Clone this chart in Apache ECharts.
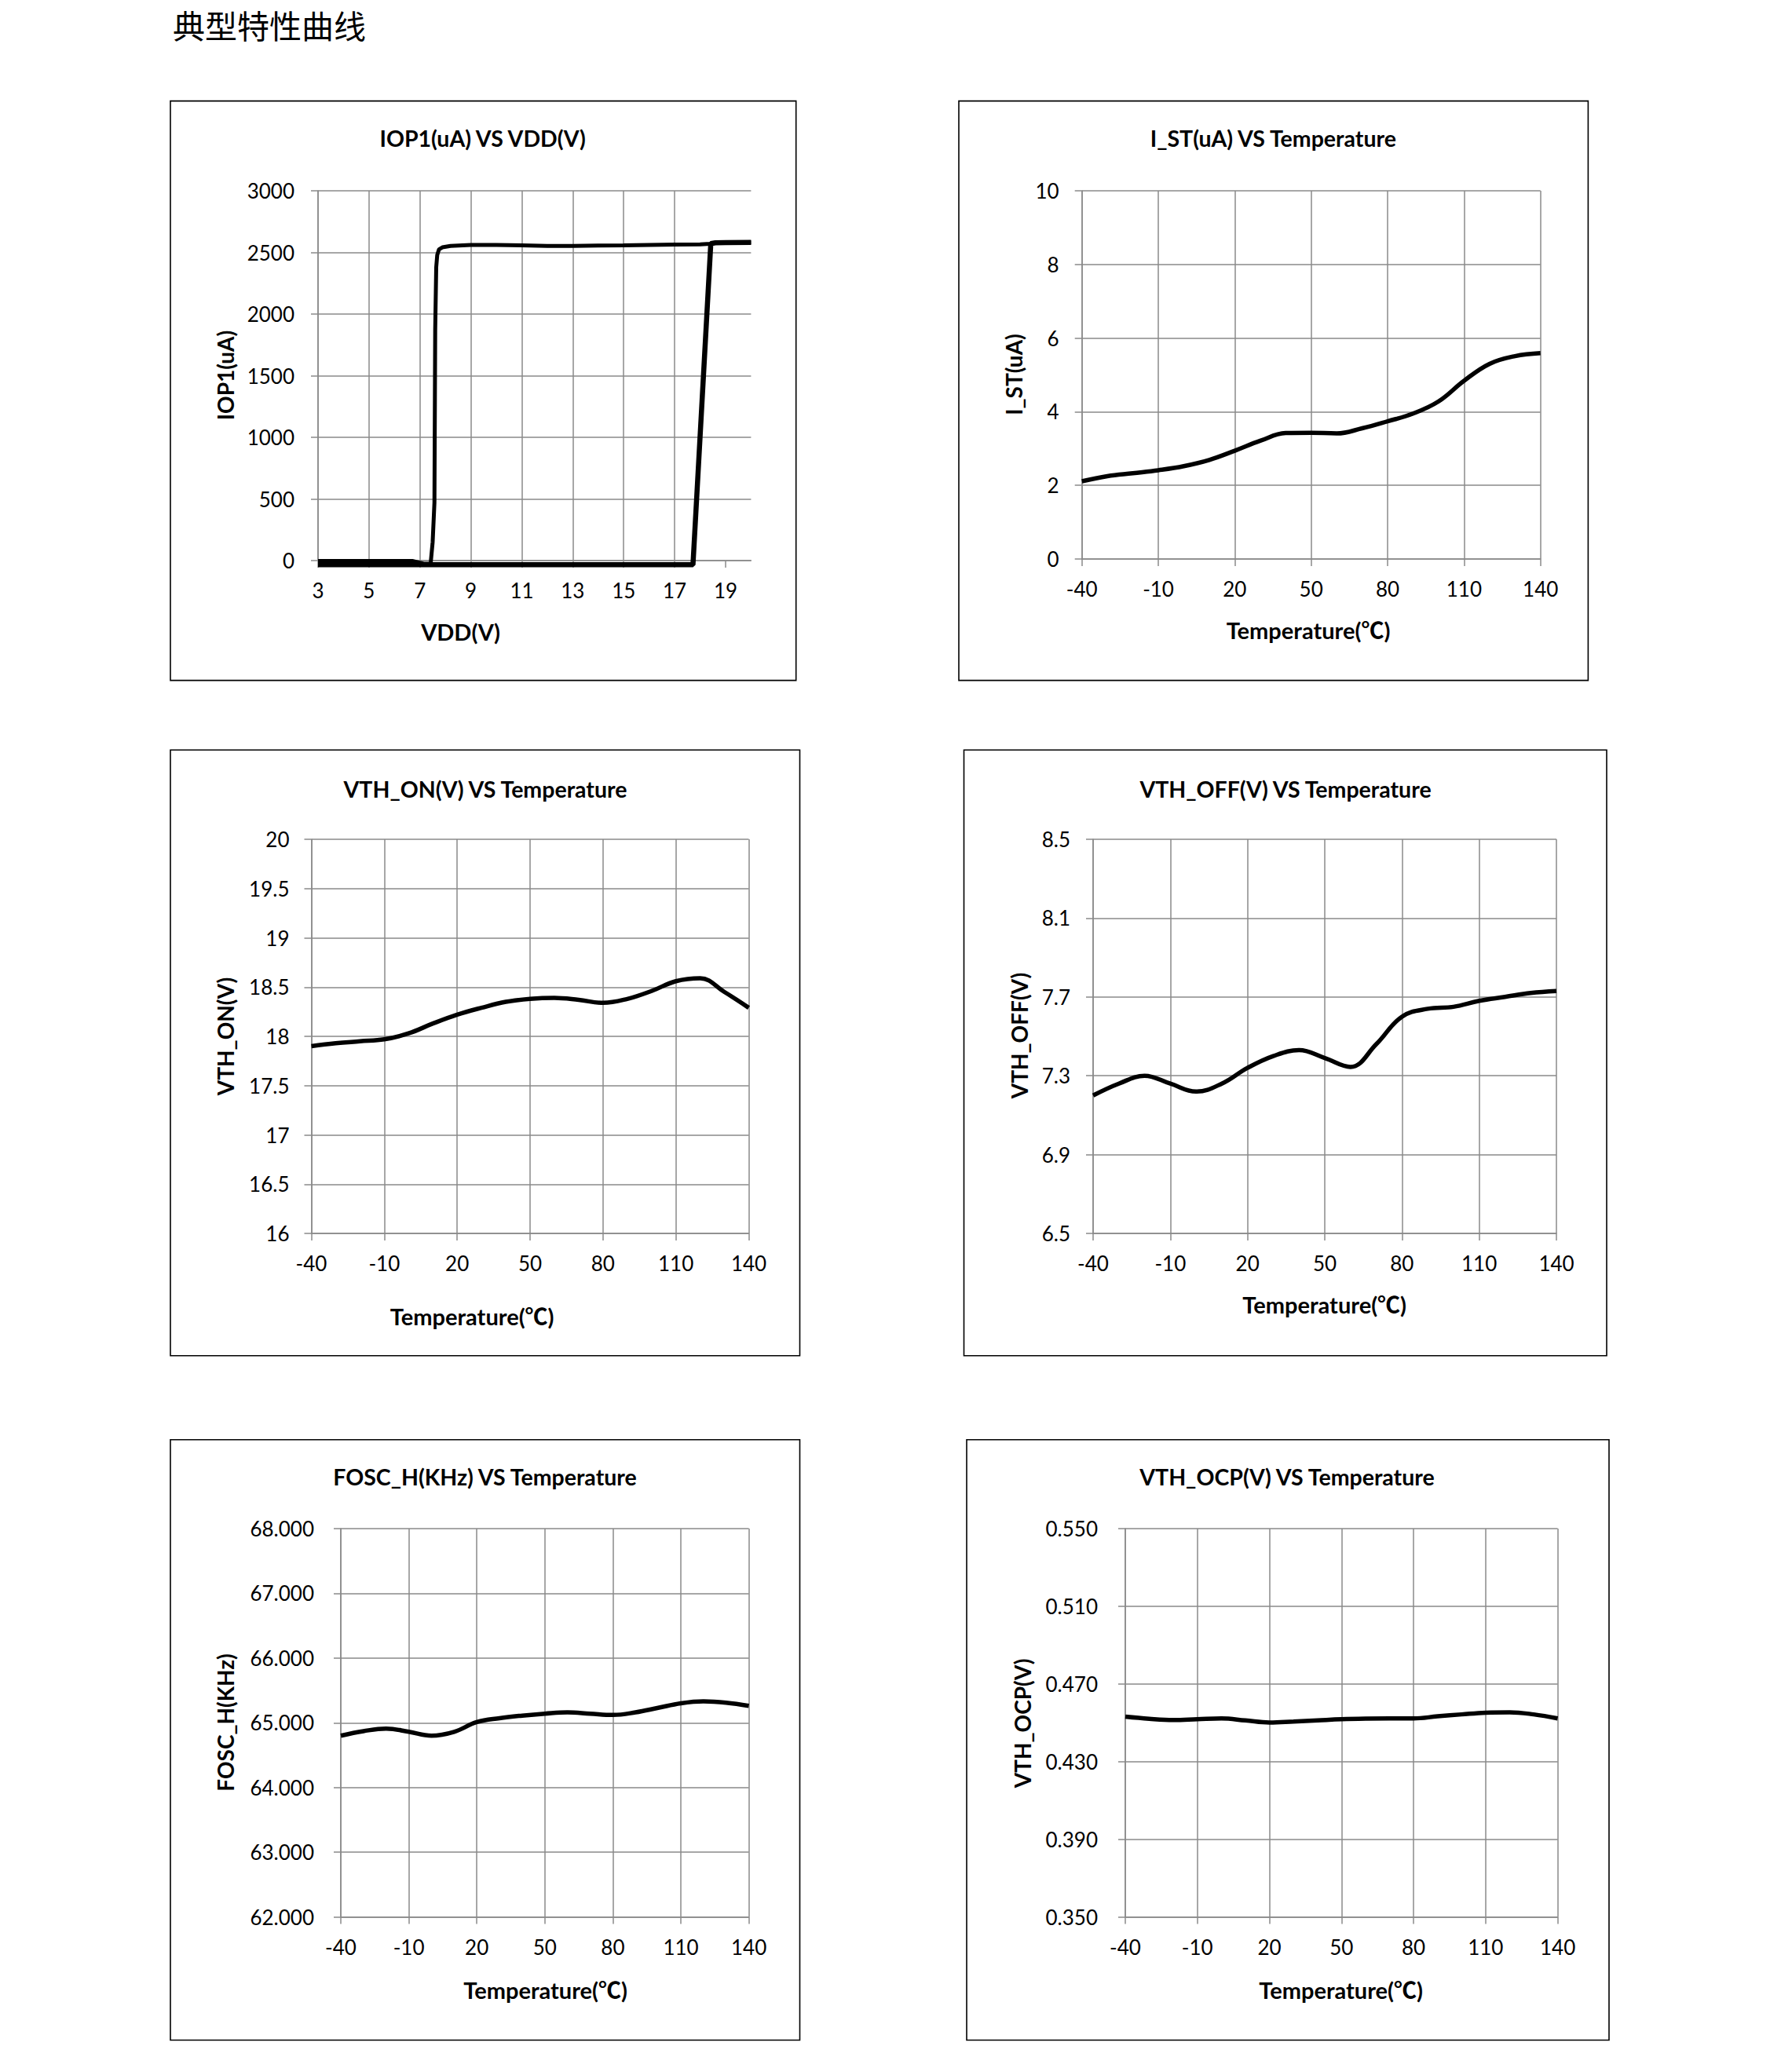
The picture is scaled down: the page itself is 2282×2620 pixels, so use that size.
<!DOCTYPE html>
<html>
<head>
<meta charset="utf-8">
<script src="https://cdn.jsdelivr.net/npm/echarts@6/dist/echarts.min.js"></script>
<style>
html,body{margin:0;padding:0;background:#fff;}
#c{width:2282px;height:2620px;}
</style>
</head>
<body>
<div id="c"></div>
<script>
// ---------------- DATA ----------------
// Chart 1: IOP1 vs VDD (hysteresis sweep)
const vddRise = [3, 4, 5, 6, 6.7, 7.15, 7.42, 7.5, 7.57, 7.6, 7.64, 7.68, 7.75, 7.88, 8.2, 9, 10, 11, 12, 13, 14, 15, 16, 17, 18, 18.4, 18.6, 19, 20];
const iopRise = [-3, -3, -3, -3, -3, -25, -25, 150, 470, 1870, 2380, 2480, 2525, 2541, 2552, 2560, 2560, 2557, 2553, 2553, 2555, 2557, 2560, 2563, 2566, 2570, 2578, 2580, 2582];
const vddFall = [20, 19, 18.6, 18.42, 17.72, 17, 15, 13, 11, 9, 7, 5, 3];
const iopFall = [2582, 2580, 2578, 2572, -34, -34, -34, -34, -34, -34, -34, -34, -34];
const vddTicks = [3, 5, 7, 9, 11, 13, 15, 17, 19];

// Temperature charts
const temps = [-40, -30, -20, -10, 0, 10, 20, 30, 40, 50, 60, 70, 80, 90, 100, 110, 120, 130, 140];
const tempTicks = [-40, -10, 20, 50, 80, 110, 140];
const istValues    = [2.11, 2.25, 2.33, 2.41, 2.52, 2.69, 2.94, 3.21, 3.42, 3.43, 3.41, 3.55, 3.74, 3.95, 4.28, 4.84, 5.30, 5.51, 5.59];
const vthOnValues  = [17.90, 17.93, 17.95, 17.97, 18.03, 18.13, 18.22, 18.29, 18.35, 18.38, 18.39, 18.37, 18.34, 18.38, 18.46, 18.56, 18.59, 18.45, 18.29];
const vthOffValues = [7.20, 7.26, 7.30, 7.26, 7.22, 7.26, 7.34, 7.40, 7.43, 7.39, 7.345, 7.46, 7.60, 7.64, 7.65, 7.68, 7.70, 7.72, 7.73];
const foscValues   = [64.80, 64.87, 64.91, 64.86, 64.80, 64.86, 65.01, 65.07, 65.11, 65.14, 65.16, 65.14, 65.12, 65.16, 65.23, 65.30, 65.33, 65.31, 65.26];
const ocpValues    = [0.4531, 0.4520, 0.4514, 0.4518, 0.4522, 0.4512, 0.4501, 0.4506, 0.4512, 0.4518, 0.4521, 0.4522, 0.4522, 0.4533, 0.4543, 0.4552, 0.4554, 0.4543, 0.4522];

// Text
const pageTitle = '典型特性曲线';
const chartTitles = ['IOP1(uA) VS VDD(V)', 'I_ST(uA) VS Temperature', 'VTH_ON(V) VS Temperature', 'VTH_OFF(V) VS Temperature', 'FOSC_H(KHz) VS Temperature', 'VTH_OCP(V) VS Temperature'];
const yNames = ['IOP1(uA)', 'I_ST(uA)', 'VTH_ON(V)', 'VTH_OFF(V)', 'FOSC_H(KHz)', 'VTH_OCP(V)'];
const xNames = ['VDD(V)', 'Temperature(℃)', 'Temperature(℃)', 'Temperature(℃)', 'Temperature(℃)', 'Temperature(℃)'];

// ---------------- LAYOUT ----------------
const FONT = 'Lato, "Noto Sans CJK SC", sans-serif';
const GRID_COLOR = '#8a8a8a';
const layout = [
  {grid:[405, 243, 551.4, 471],  box:[217, 128.6, 796.7, 738],    title:[614.6, 176],  xName:[586.6, 804],  yName:[286.6, 478],  yMargin:30},
  {grid:[1377.7, 243, 584, 469], box:[1221, 128.6, 801.4, 738],   title:[1621.3, 176], xName:[1666, 802],   yName:[1291, 477],   yMargin:29},
  {grid:[396.5, 1069, 557, 502], box:[217, 955.2, 801.5, 771.6],  title:[618, 1004.5], xName:[601.2, 1676.7], yName:[286.6, 1320], yMargin:28},
  {grid:[1392, 1069, 590, 502],  box:[1227.5, 955.2, 818.5, 771.6], title:[1637, 1004.5], xName:[1686.7, 1661], yName:[1298, 1319], yMargin:29},
  {grid:[434, 1947, 519.6, 494.5], box:[217, 1833.7, 801.5, 764.8], title:[617.5, 1881], xName:[694.6, 2534.6], yName:[286.6, 2194], yMargin:34},
  {grid:[1433, 1947, 550.6, 494.5], box:[1231, 1833.7, 818, 764.8], title:[1639, 1881], xName:[1707.6, 2534.6], yName:[1301.6, 2195], yMargin:35}
];

const yAxesCfg = [
  {min:0, max:3000, interval:500, fmt:v => String(Math.round(v))},
  {min:0, max:10, interval:2, fmt:v => String(Math.round(v))},
  {min:16, max:20, interval:0.5, fmt:v => String(Math.round(v*10)/10)},
  {min:6.5, max:8.5, interval:0.4, fmt:v => v.toFixed(1)},
  {min:62, max:68, interval:1, fmt:v => v.toFixed(3)},
  {min:0.35, max:0.55, interval:0.04, fmt:v => v.toFixed(3)}
];

const grids = [], xAxes = [], yAxes = [], series = [], graphics = [];

layout.forEach((L, i) => {
  grids.push({left:L.grid[0], top:L.grid[1], width:L.grid[2], height:L.grid[3], containLabel:false});
  const isVdd = i === 0;
  xAxes.push({
    type:'value', gridIndex:i,
    min: isVdd ? 3 : -40, max: isVdd ? 20 : 140, interval: isVdd ? 2 : 30,
    axisLine:{show:true, onZero:false, lineStyle:{color:GRID_COLOR, width:1.5}},
    axisTick:{show:true, length:9, lineStyle:{color:GRID_COLOR, width:1.5}, customValues: isVdd ? vddTicks : tempTicks},
    axisLabel:{show:true, margin:25, color:'#000', fontFamily:FONT, fontSize:26, customValues: isVdd ? vddTicks : tempTicks,
      formatter: v => String(Math.round(v))},
    splitLine:{show:true, showMaxLine: !isVdd, lineStyle:{color:GRID_COLOR, width:1.5}}
  });
  const Y = yAxesCfg[i];
  yAxes.push({
    type:'value', gridIndex:i, min:Y.min, max:Y.max, interval:Y.interval,
    axisLine:{show:true, onZero:false, lineStyle:{color:GRID_COLOR, width:1.5}},
    axisTick:{show:true, length:9, lineStyle:{color:GRID_COLOR, width:1.5}},
    axisLabel:{show:true, margin:L.yMargin, color:'#000', fontFamily:FONT, fontSize:26, formatter:Y.fmt},
    splitLine:{show:true, lineStyle:{color:GRID_COLOR, width:1.5}}
  });

  // frame
  graphics.push({type:'rect', shape:{x:L.box[0], y:L.box[1], width:L.box[2], height:L.box[3]},
    style:{fill:'none', stroke:'#000', lineWidth:1.6}, z:1});
  // chart title
  graphics.push({type:'text', x:L.title[0], y:L.title[1],
    style:{text:chartTitles[i], font:'bold 28.5px ' + FONT, fill:'#000', textAlign:'center', textVerticalAlign:'middle'}});
  // x name
  graphics.push({type:'text', x:L.xName[0], y:L.xName[1],
    style:{text:xNames[i], font:'bold 29px ' + FONT, fill:'#000', textAlign:'center', textVerticalAlign:'middle'}});
  // y name (rotated)
  graphics.push({type:'text', x:L.yName[0], y:L.yName[1], rotation:Math.PI/2,
    style:{text:yNames[i], font:'bold 28px ' + FONT, fill:'#000', textAlign:'center', textVerticalAlign:'middle'}});
});

const lineStyle = {color:'#000', width:5.5};
series.push({type:'line', xAxisIndex:0, yAxisIndex:0, data:vddRise.map((x,k)=>[x, iopRise[k]]),
  showSymbol:false, symbol:'none', smooth:false, clip:false, lineStyle:{color:'#000', width:5}, z:3});
series.push({type:'line', xAxisIndex:0, yAxisIndex:0, data:vddFall.map((x,k)=>[x, iopFall[k]]),
  showSymbol:false, symbol:'none', smooth:false, clip:false, lineStyle:{color:'#000', width:6.5}, z:3});

const tempSeries = [istValues, vthOnValues, vthOffValues, foscValues, ocpValues];
tempSeries.forEach((vals, j) => {
  series.push({type:'line', xAxisIndex:j+1, yAxisIndex:j+1, data:temps.map((t,k)=>[t, vals[k]]),
    showSymbol:false, symbol:'none', smooth:0.4, clip:false, lineStyle:lineStyle, z:3});
});

// page title
graphics.push({type:'text', x:220, y:31,
  style:{text:pageTitle, font:'41px "Noto Sans CJK SC", sans-serif', fill:'#000', textAlign:'left', textVerticalAlign:'middle'}});

const chart = echarts.init(document.getElementById('c'), null, {renderer:'svg', width:2282, height:2620});
chart.setOption({
  backgroundColor:'#fff',
  animation:false,
  grid:grids, xAxis:xAxes, yAxis:yAxes, series:series,
  graphic:graphics,
  tooltip:{show:false}
});
</script>
</body>
</html>
